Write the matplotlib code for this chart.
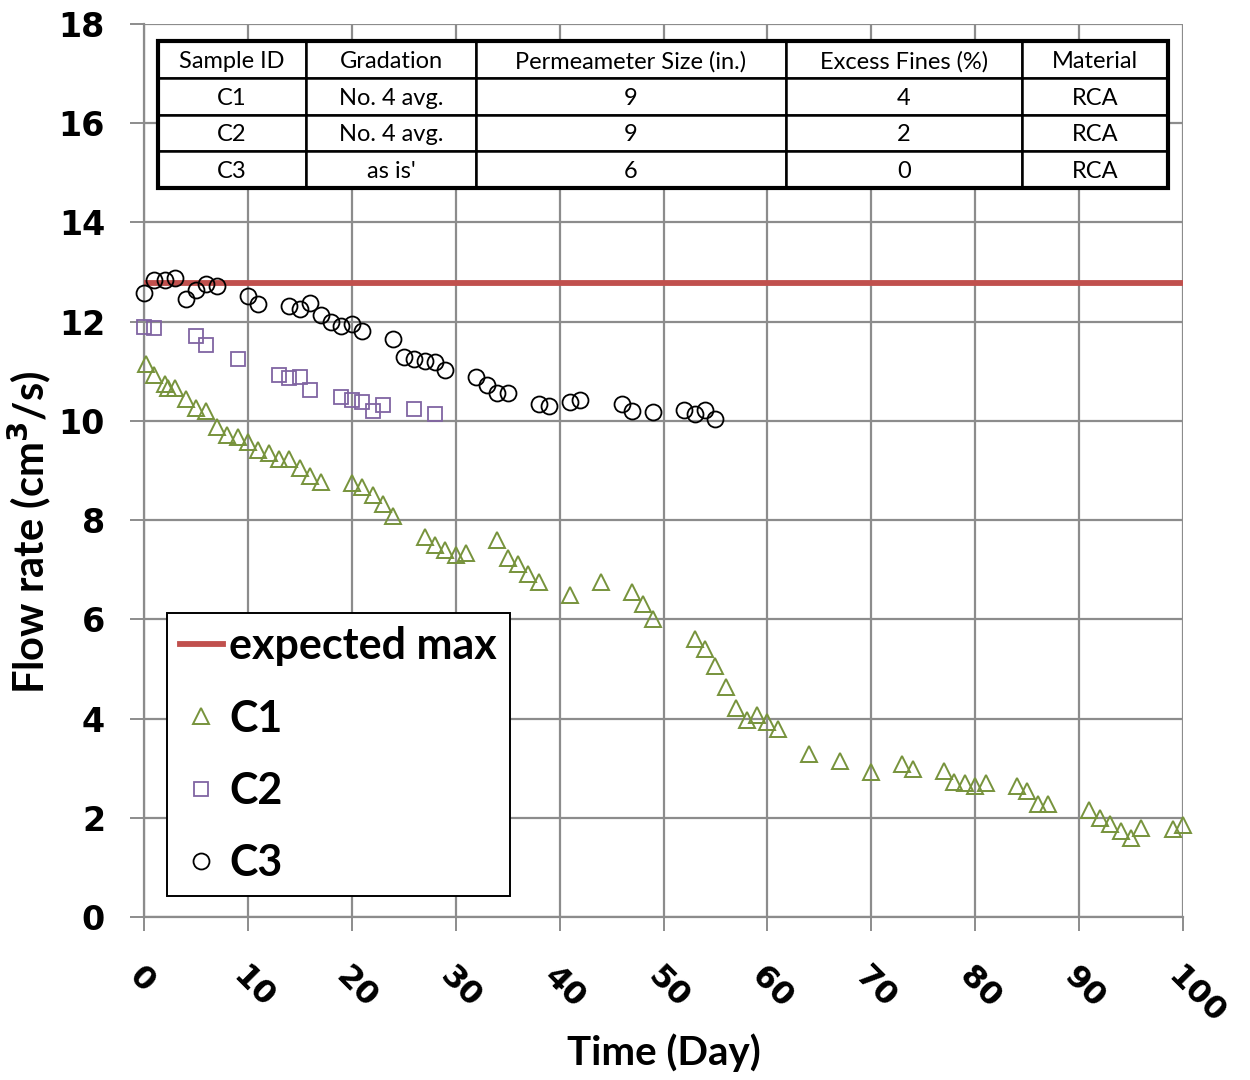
import matplotlib.pyplot as plt
from matplotlib.patches import Rectangle

# data
expected_max = 12.77

c1_day = [0.2, 1, 2, 2.3, 3, 4, 5, 6, 7, 8, 9, 10, 11, 12, 13, 14, 15, 16, 17,
          20, 21, 22, 23, 24, 27, 28, 29, 30, 31, 34, 35, 36, 37, 38, 41, 44,
          47, 48, 49, 53, 54, 55, 56, 57, 58, 59, 60, 61, 64, 67, 70, 73, 74,
          77, 78, 79, 80, 81, 84, 85, 86, 87, 91, 92, 93, 94, 95, 96, 99, 100]
c1_flow = [11.15, 10.93, 10.74, 10.67, 10.66, 10.45, 10.25, 10.19, 9.88, 9.72,
           9.68, 9.58, 9.41, 9.36, 9.23, 9.23, 9.06, 8.88, 8.77,
           8.74, 8.67, 8.51, 8.32, 8.08, 7.66, 7.50, 7.40, 7.30, 7.33, 7.59,
           7.24, 7.12, 6.91, 6.75, 6.49, 6.75,
           6.56, 6.30, 6.00, 5.60, 5.40, 5.05, 4.63, 4.21, 3.98, 4.08, 3.94,
           3.78, 3.29, 3.14, 2.93, 3.08, 2.98,
           2.94, 2.73, 2.71, 2.65, 2.71, 2.64, 2.55, 2.28, 2.28, 2.15, 1.99,
           1.87, 1.73, 1.60, 1.80, 1.77, 1.85]

c2_day = [0, 1, 5, 6, 9, 13, 14, 15, 16, 19, 20, 21, 22, 23, 26, 28]
c2_flow = [11.89, 11.87, 11.71, 11.53, 11.24, 10.92, 10.87, 10.88, 10.62,
           10.49, 10.42, 10.39, 10.19, 10.32, 10.23, 10.13]

c3_day = [0, 1, 2, 3, 4, 5, 6, 7, 10, 11, 14, 15, 16, 17, 18, 19, 20, 21, 24,
          25, 26, 27, 28, 29, 32, 33, 34, 35, 38, 39, 41, 42, 46, 47, 49, 52,
          53, 54, 55]
c3_flow = [12.57, 12.84, 12.83, 12.87, 12.45, 12.64, 12.76, 12.72, 12.52,
           12.35, 12.32, 12.25, 12.38, 12.13, 12.00, 11.91, 11.95, 11.82,
           11.66, 11.29, 11.25, 11.21, 11.19, 11.03, 10.88, 10.72, 10.57,
           10.56, 10.35, 10.29, 10.39, 10.42, 10.35, 10.20, 10.18, 10.21,
           10.13, 10.21, 10.04]

table_header = ["Sample ID", "Gradation", "Permeameter Size (in.)", "Excess Fines (%)", "Material"]
table_rows = [["C1", "No. 4 avg.", "9", "4", "RCA"],
              ["C2", "No. 4 avg.", "9", "2", "RCA"],
              ["C3", "as is'", "6", "0", "RCA"]]
col_widths = [148, 170, 310, 236, 146]

x_ticks = list(range(0, 101, 10))
y_ticks = list(range(0, 19, 2))

fig = plt.figure(figsize=(12.5, 10.8), dpi=100)
ax = fig.add_axes([0.1152, 0.1509, 0.8312, 0.8269])

grid_c = '#8c8c8c'
ax.axhline(expected_max, color='#C0504D', lw=4.2, label='expected max', zorder=3)
ax.plot(c1_day, c1_flow, ls='none', marker='^', ms=11, mfc='none', mec='#77933C',
        mew=1.4, label='C1', zorder=4, clip_on=False)
ax.plot(c2_day, c2_flow, ls='none', marker='s', ms=10.5, mfc='none', mec='#8064A2',
        mew=1.3, label='C2', zorder=4, clip_on=False)
ax.plot(c3_day, c3_flow, ls='none', marker='o', ms=11.5, mfc='none', mec='black',
        mew=1.3, label='C3', zorder=4, clip_on=False)

ax.set_xlim(0, 100)
ax.set_ylim(0, 18)
ax.set_xticks(x_ticks)
ax.set_yticks(y_ticks)
ax.grid(True, color=grid_c, lw=1.6)
ax.set_axisbelow(True)
for side in ['top', 'right']:
    ax.spines[side].set_visible(False)
for side in ['left', 'bottom']:
    ax.spines[side].set_color(grid_c)
    ax.spines[side].set_linewidth(1.6)
ax.tick_params(axis='both', color=grid_c, width=1.4, length=10)
ax.tick_params(axis='y', labelsize=24, pad=18)
ax.tick_params(axis='x', labelsize=23, pad=22)
for lbl in ax.get_yticklabels():
    lbl.set_fontweight('bold')
for lbl in ax.get_xticklabels():
    lbl.set_fontweight('bold')
    lbl.set_rotation(-45)
    lbl.set_ha('left')
    lbl.set_va('top')
    lbl.set_rotation_mode('anchor')

ax.set_xlabel('Time (Day)', fontsize=29, fontweight='bold', family='Lato', labelpad=2)
ax.set_ylabel('Flow rate (cm$^\\mathbf{3}$/s)', fontsize=30, fontweight='bold', family='Lato')
ax.yaxis.set_label_coords(-0.088, 0.431)

# table at the top
tot = sum(col_widths)
tbl = ax.table(cellText=table_rows, colLabels=table_header, cellLoc='center',
               colWidths=[w / tot * 0.972 for w in col_widths],
               bbox=[0.01347, 0.8163, 0.972, 0.1646], zorder=6)
tbl.auto_set_font_size(False)
for (r, c), cell in tbl.get_celld().items():
    cell.set_linewidth(1.8)
    cell.set_edgecolor('black')
    cell.set_facecolor('white')
    cell.get_text().set_fontsize(17)
    cell.get_text().set_family('Lato')
    cell.get_text().set_va('center_baseline')
ax.add_patch(Rectangle((0.01347, 0.8163), 0.972, 0.1646, transform=ax.transAxes,
                       fill=False, ec='black', lw=3, zorder=7))

leg = ax.legend(loc='lower left', bbox_to_anchor=(0.0221, 0.0235), borderaxespad=0,
                prop={'family': 'Lato', 'weight': 'bold', 'size': 31},
                fancybox=False, framealpha=1, edgecolor='black', borderpad=0.3,
                labelspacing=0.75, handlelength=1.0, handletextpad=0.15, markerscale=1.0)
leg.get_frame().set_linewidth(1.4)
leg.set_zorder(8)

fig.savefig('out.png', dpi=100)
